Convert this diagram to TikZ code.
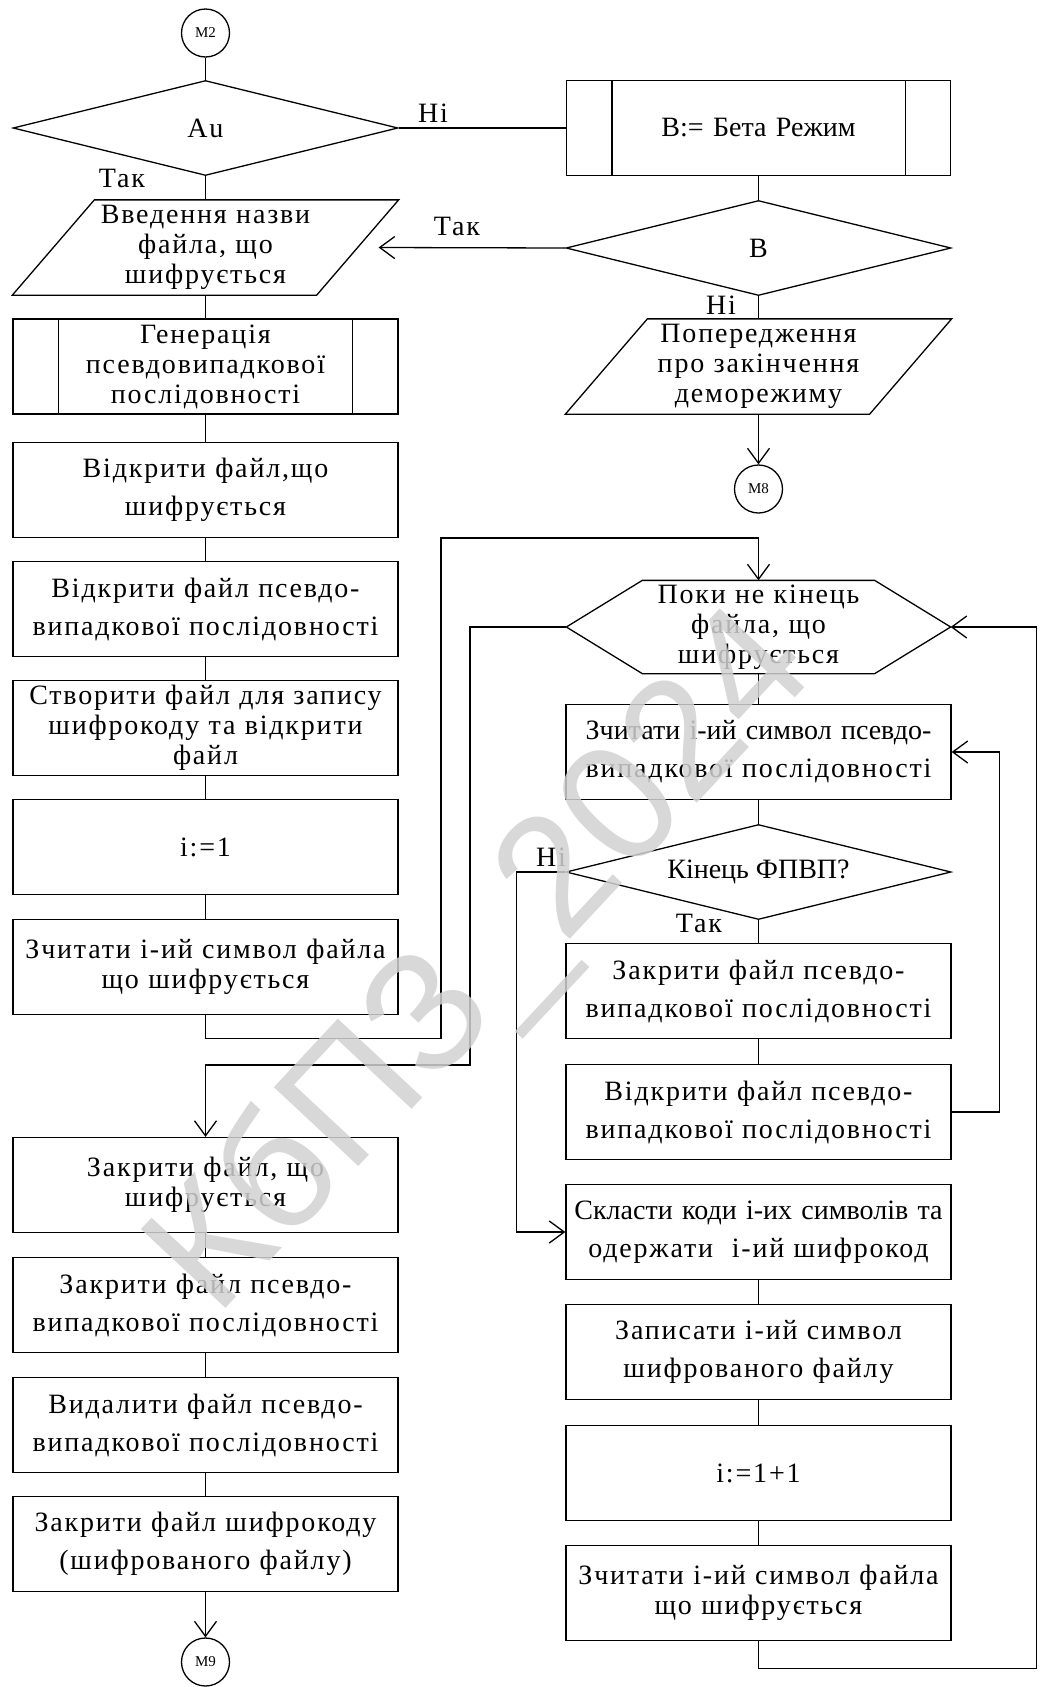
\documentclass[tikz,border=0pt]{standalone}
\usepackage{fontspec}
\setmainfont{Liberation Serif}[LetterSpace=6.5]
\newfontfamily\tightfont{Liberation Serif}
\newfontfamily\wmfont{Liberation Sans}
\usetikzlibrary{arrows.meta,positioning,shapes.geometric}

\begin{document}
\begin{tikzpicture}[x=1pt, y=-1pt, line width=1.3pt,
  every node/.style={font=\fontsize{28}{30}\selectfont, inner sep=0pt},
  proc/.style={draw, rectangle, minimum width=385pt, minimum height=95pt, text width=382pt, align=center},
  loose/.style={font=\fontsize{28}{38}\selectfont},
  cond/.style={draw, diamond, aspect=4, minimum width=385pt, minimum height=95pt},
  io/.style={minimum width=303pt, minimum height=94pt, text width=300pt, align=center},
  hexa/.style={minimum width=383pt, minimum height=92pt, text width=300pt, align=center},
  conn/.style={draw, circle, minimum size=48pt, font=\tightfont\fontsize{15}{15}\selectfont},
  arr/.style={-{Straight Barb[length=15pt,width=22pt]}}]
\useasboundingbox (0,0) rectangle (1039,1687);

% left column
\node[conn] (m2) at (205.5,33) {M2};
\node[cond] (au) at (205.5,128) {Au};
\node[io] (fname) at (205.5,247.5) {Введення назви\\файла, що\\шифрується};
\node[proc] (gen) at (205.5,366.5) {Генерація\\псевдовипадкової\\послідовності};
\node[proc, loose] (openf) at (205.5,490) {Відкрити файл,що\\шифрується};
\node[proc, loose] (openp) at (205.5,609) {Відкрити файл псевдо-\\випадкової послідовності};
\node[proc] (create) at (205.5,728) {Створити файл для запису\\шифрокоду та відкрити\\файл};
\node[proc] (init) at (205.5,847) {i:=1};
\node[proc] (readf) at (205.5,967) {Зчитати і-ий символ файла\\що шифрується};
\node[proc] (closef) at (205.5,1185) {Закрити файл, що\\шифрується};
\node[proc, loose] (closep) at (205.5,1305) {Закрити файл псевдо-\\випадкової послідовності};
\node[proc, loose] (delp) at (205.5,1425) {Видалити файл псевдо-\\випадкової послідовності};
\node[proc, loose] (closec) at (205.5,1544) {Закрити файл шифрокоду\\(шифрованого файлу)};
\node[conn] (m9) at (205.5,1662) {M9};

% right column
\node[proc, minimum width=384pt, font=\tightfont\fontsize{28}{30}\selectfont] (beta) at (758.5,128) {B:= Бета Режим};
\node[cond] (b) at (758.5,248) {B};
\node[io] (warn) at (758.5,366.5) {Попередження\\про закінчення\\деморежиму};
\node[conn] (m8) at (758.5,489) {M8};
\node[hexa] (loop) at (758.5,627) {Поки не кінець\\файла, що\\шифрується};
\node[proc, loose] (readp) at (758.5,752) {{\tightfont Зчитати і-ий символ псевдо-}\\випадкової послідовності};
\node[cond, font=\tightfont\fontsize{28}{30}\selectfont] (endp) at (758.5,872) {Кінець ФПВП?};
\node[proc, loose] (closep2) at (758.5,991) {Закрити файл псевдо-\\випадкової послідовності};
\node[proc, loose] (openp2) at (758.5,1112) {Відкрити файл псевдо-\\випадкової послідовності};
\node[proc, loose] (sum) at (758.5,1232) {{\tightfont Скласти коди і-их символів та}\\одержати\ \ і-ий шифрокод};
\node[proc, loose] (write) at (758.5,1352) {Записати і-ий символ\\шифрованого файлу};
\node[proc] (inc) at (758.5,1473) {i:=1+1};
\node[proc] (readf2) at (758.5,1593) {Зчитати і-ий символ файла\\що шифрується};

% shapes drawn round text nodes
\foreach \n in {fname,warn}
  \draw ([xshift=41pt]\n.north west) -- ([xshift=41pt]\n.north east)
     -- ([xshift=-41pt]\n.south east) -- ([xshift=-41pt]\n.south west) -- cycle;
\foreach \n in {gen,beta}
  \draw ([xshift=46pt]\n.north west) -- ([xshift=46pt]\n.south west)
        ([xshift=-46pt]\n.north east) -- ([xshift=-46pt]\n.south east);
\draw (loop.west) -- ([xshift=76pt]loop.north west) -- ([xshift=-76pt]loop.north east)
   -- (loop.east) -- ([xshift=-76pt]loop.south east) -- ([xshift=76pt]loop.south west) -- cycle;

% labels
\node (no1) at (433,113) {Ні};
\node (yes1) at (122,178) {Так};
\node (yes2) at (457,226) {Так};
\node (no2) at (721,305) {Ні};
\node (no3) at (551,857) {Ні};
\node (yes3) at (699,923) {Так};

% connectors
\draw (m2) -- (au);
\draw (au) -- (fname);
\draw (au.east) -- (beta.west);
\draw (beta) -- (b);
\draw[arr] (b.west) -- ([xshift=21pt]fname.east);
\draw (b) -- (warn);
\draw[arr] (warn) -- (m8);
\foreach \a/\c in {fname/gen,gen/openf,openf/openp,openp/create,create/init,init/readf,
                   closef/closep,closep/delp,delp/closec}
  \draw (\a) -- (\c);
\draw[arr] (closec) -- (m9);
\draw[arr] (readf.south) -- ++(0,23) -| (441,538) -| (loop.north);
\draw[arr] (loop.west) -| (470,1065) -| (closef.north);
\foreach \a/\c in {loop/readp,readp/endp,endp/closep2,closep2/openp2,sum/write,write/inc,inc/readf2}
  \draw (\a) -- (\c);
\draw[arr] (endp.west) -- ++(-49,0) |- (sum.west);
\draw[arr] (openp2.east) -- ++(48,0) |- (readp.east);
\draw[arr] (readf2.south) -- ++(0,27) -| ([xshift=86pt]loop.east) -- (loop.east);

% watermark
\node[rotate=47, text=black!18, opacity=0.85, font=\wmfont\fontsize{168}{168}\selectfont] (wm) at (485,965) {КбПЗ\_2024};
\end{tikzpicture}
\end{document}
